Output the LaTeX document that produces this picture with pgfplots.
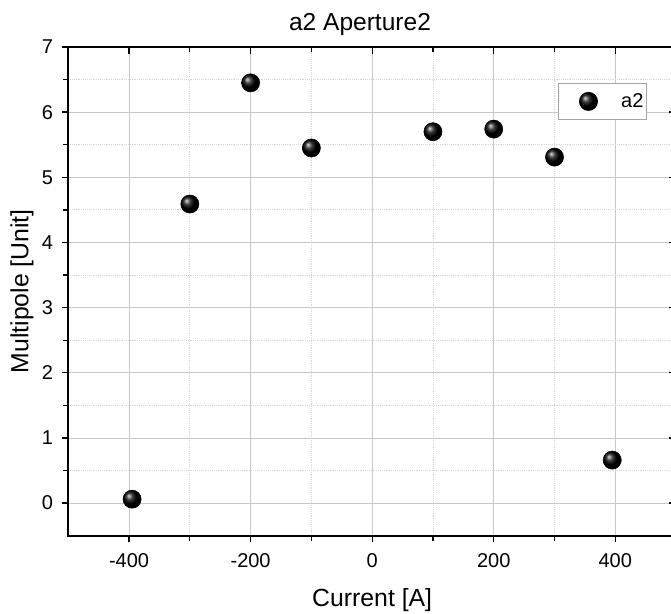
\documentclass[border=0pt]{standalone}
\usepackage{fontspec}
\setmainfont{Liberation Sans}
\usepackage{pgfplots}
\pgfplotsset{compat=1.18}

\definecolor{majgrid}{RGB}{200,200,200}
\definecolor{mingrid}{RGB}{215,215,215}

\begin{document}
\begin{tikzpicture}
    % picture is cropped on the right like the reference
    \path[use as bounding box, clip] (-51.2pt,-58.05pt) rectangle (452.0pt,401.7pt);
    \begin{axis}[
        scale only axis,
        width=455.8pt, height=366.45pt,
        xmin=-500, xmax=500,
        ymin=-0.5, ymax=7,
        xtick={-400,-200,0,200,400},
        ytick={0,1,2,3,4,5,6,7},
        minor x tick num=1,
        minor y tick num=1,
        xtick pos=left, ytick pos=left,
        tick align=outside,
        major tick length=5pt, minor tick length=4pt,
        every tick/.style={black, line width=1pt},
        axis line style={black, line width=1.3pt},
        grid=both,
        major grid style={majgrid, line width=0.6pt},
        minor grid style={mingrid, densely dotted, line width=0.6pt},
        /pgf/number format/assume math mode=true,
        tick label style={font=\fontsize{15}{17}\selectfont},
        xticklabel shift=5pt,
        yticklabel shift=3pt,
        xlabel={Current [A]},
        ylabel={Multipole [Unit]},
        title={a2 Aperture2},
        every axis title shift=0pt,
        label style={font=\fontsize{18.6}{21}\selectfont},
        xlabel style={at={(axis description cs:0.5,-0.144)}, anchor=base},
        ylabel style={at={(axis description cs:-0.076,0.5)}, anchor=center, rotate=0},
        title style={at={(axis description cs:0.48,1.0348)}, anchor=base, font=\fontsize{18.4}{21}\selectfont},
        legend style={at={(0.8059,0.9263)}, anchor=north west, draw=gray!70, line width=0.6pt,
            font=\fontsize{15}{17}\selectfont, inner xsep=0pt, inner ysep=5.5pt},
        legend image code/.code={
            \path[draw=none, fill=none] (0pt,0pt) -- (45pt,0pt);
            \draw[#1, only marks] plot coordinates {(22.5pt,0pt)};
        },
        legend cell align=left,
    ]
        \addplot[only marks, mark=ball, mark size=6.8pt, mark options={ball color=black}] coordinates {
            (-395, 0.06)
            (-300, 4.59)
            (-200, 6.45)
            (-100, 5.45)
            (100, 5.70)
            (200, 5.74)
            (300, 5.31)
            (395, 0.66)
        };
        \addlegendentry{a2}
    \end{axis}
    \begin{axis}[
        scale only axis,
        width=455.8pt, height=366.45pt,
        xmin=-500, xmax=500,
        ymin=-0.5, ymax=7,
        xtick={-400,-200,0,200,400},
        ytick={0,1,2,3,4,5,6,7},
        minor x tick num=1,
        minor y tick num=1,
        axis x line*=top, axis y line*=right,
        tick align=inside,
        major tick length=5pt, minor tick length=4pt,
        every tick/.style={black, line width=1pt},
        axis line style={black, line width=1.3pt, -},
        xticklabels={}, yticklabels={},
    ]
    \end{axis}
\end{tikzpicture}
\end{document}
